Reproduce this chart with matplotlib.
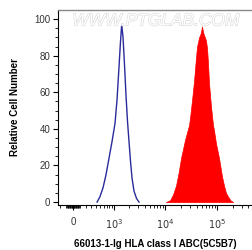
import numpy as np
import matplotlib
matplotlib.use("Agg")
import matplotlib.pyplot as plt
import matplotlib.patheffects as pe
from matplotlib.ticker import FixedLocator, NullFormatter

plt.rcParams['font.family'] = ['Liberation Sans', 'DejaVu Sans']

# isotype control (blue outline)
ctrl_x = [424, 498, 585, 677, 784, 904, 1041, 1144, 1253, 1343, 1417, 1505, 1610,
          1725, 1845, 1974, 2115, 2262, 2472, 2764, 3092]
ctrl_y = [0, 3, 8, 15, 24, 33, 43, 56, 74, 88, 97, 90, 75, 58, 44, 33, 22, 13,
          6, 2, 0]

# HLA class I ABC stained (red filled)
stain_x = [10300, 12300, 14000, 16050, 18000, 20050, 23950, 28600, 29900, 32500,
           35700, 38500, 40800, 42500, 44600, 46500, 48800, 51000, 53300, 56000,
           58200, 61000, 63700, 66500, 69600, 76100, 83200, 87000, 95000, 108600,
           124000, 135500, 148000, 161900, 180000, 202300]
stain_y = [0, 1, 4, 9, 16, 24, 34, 42, 46, 55, 66, 77, 85, 87, 90, 91, 93, 96,
           93, 91, 90, 88, 84, 76, 65, 52, 42, 39, 32, 24, 14, 9, 5, 3, 1, 0]

xtick_vals = [0, 1e3, 1e4, 1e5]
xtick_labels = ['0', '$10^3$', '$10^4$', '$10^5$']
ytick_vals = [0, 20, 40, 60, 80, 100]

fig = plt.figure(figsize=(2.52, 2.50), dpi=100)
ax = fig.add_axes([58 / 252, 45 / 250, 1 - 58 / 252, 195 / 250])

ax.set_xscale('asinh', linear_width=330)
ax.fill_between(stain_x, stain_y, 0, color='#ff0000', lw=0.5, edgecolor='#ff0000', zorder=2)
ax.plot(ctrl_x, ctrl_y, color='#2a2a9c', lw=1.0, zorder=3)

ax.set_xlim(-237, 470000)
ax.set_ylim(-1.6, 105)

# ticks
ax.xaxis.set_major_locator(FixedLocator(xtick_vals))
ax.set_xticklabels(xtick_labels)
minors = [-200, -100] + list(range(-90, 100, 10)) + list(range(100, 1000, 100)) \
    + list(range(2000, 10000, 1000)) + list(range(20000, 100000, 10000)) \
    + list(range(200000, 500000, 100000))
minors = [m for m in minors if m not in xtick_vals]
ax.xaxis.set_minor_locator(FixedLocator(minors))
ax.xaxis.set_minor_formatter(NullFormatter())
ax.set_yticks(ytick_vals)
ax.yaxis.set_minor_locator(FixedLocator(list(range(5, 105, 5))))

ax.tick_params(axis='both', which='major', labelsize=7, labelcolor='#333333',
               length=3.5, width=0.8, direction='out', pad=2)
ax.tick_params(axis='x', which='major', pad=5)
ax.tick_params(axis='both', which='minor', length=2, width=0.6, direction='out')

ax.spines['right'].set_visible(False)
ax.spines['top'].set_color('#888888')
ax.spines['top'].set_linewidth(1.0)
ax.spines['left'].set_linewidth(0.8)
ax.spines['bottom'].set_linewidth(0.8)

ax.set_ylabel('Relative Cell Number', fontsize=7, fontweight='bold', labelpad=10)
ax.set_xlabel('66013-1-Ig HLA class I ABC(5C5B7)', fontsize=7, fontweight='bold', labelpad=6)

fig.text(156 / 252, 1 - 21 / 250, 'WWW.PTGLAB.COM', fontsize=12.5, color='white',
         ha='center', va='center', style='italic', zorder=1,
         path_effects=[pe.withStroke(linewidth=0.8, foreground='#d6d6d6')])

fig.savefig('out.png', dpi=100)
